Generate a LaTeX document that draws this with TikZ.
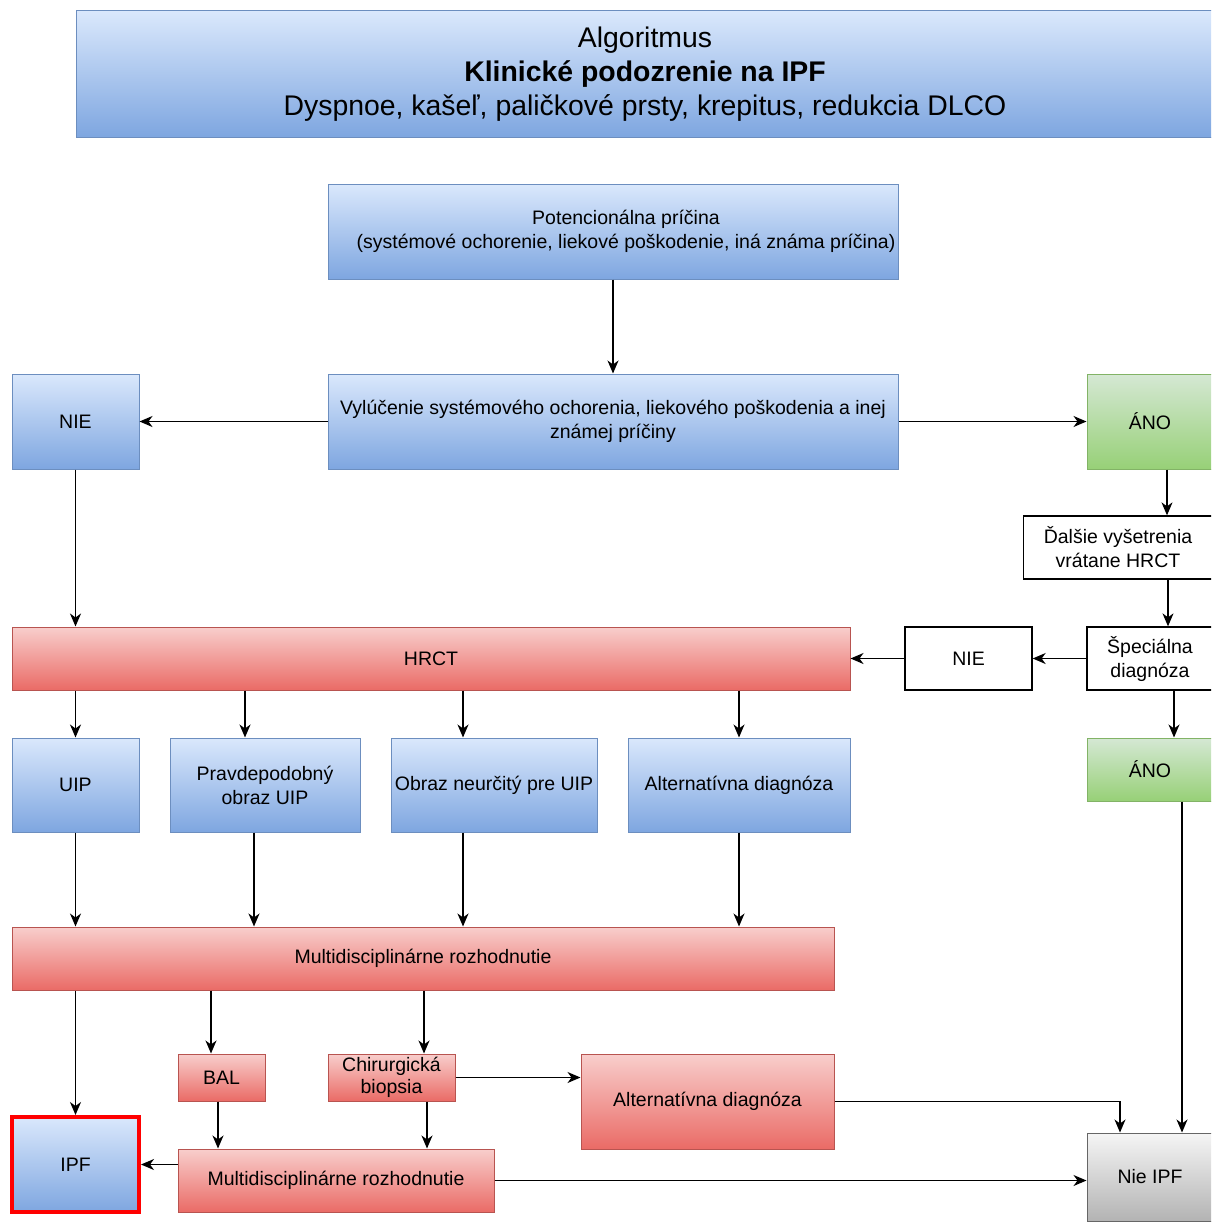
\documentclass[tikz,border=0pt]{standalone}
\usepackage{fontspec}
\setmainfont{Liberation Sans}
\usetikzlibrary{arrows.meta}
\definecolor{bluetop}{HTML}{DAE8FC}
\definecolor{bluebot}{HTML}{7EA6E0}
\definecolor{blueline}{HTML}{6C8EBF}
\definecolor{redtop}{HTML}{F8CECC}
\definecolor{redbot}{HTML}{EA6B66}
\definecolor{redline}{HTML}{B85450}
\definecolor{greentop}{HTML}{D5E8D4}
\definecolor{greenbot}{HTML}{97D077}
\definecolor{greenline}{HTML}{82B366}
\definecolor{graytop}{HTML}{F5F5F5}
\definecolor{graybot}{HTML}{B3B3B3}
\definecolor{grayline}{HTML}{666666}
\tikzset{
  box/.style={rectangle, inner sep=0pt, align=center, line width=1pt,
    font=\fontsize{19.5}{24}\selectfont, text=black},
  bluebox/.style={box, top color=bluetop, bottom color=bluebot, draw=blueline},
  redbox/.style={box, top color=redtop, bottom color=redbot, draw=redline},
  greenbox/.style={box, top color=greentop, bottom color=greenbot, draw=greenline},
  graybox/.style={box, top color=graytop, bottom color=graybot, draw=grayline},
  whitebox/.style={box, fill=white, draw=black, line width=1.3pt},
  arr/.style={-{Stealth[length=13pt,width=11pt,inset=4pt]}, line width=1.4pt, draw=black},
}
\begin{document}
\begin{tikzpicture}[x=1pt,y=-1pt]
\clip (0,0) rectangle (1211,1223);
\fill[white] (0,0) rectangle (1211,1223);
% header
\node[bluebox, minimum width=1138pt, minimum height=126pt, font=\fontsize{28.4}{34}\selectfont] (head) at (645,74)
  {Algoritmus\\\textbf{Klinické podozrenie na IPF}\\Dyspnoe, kašeľ, paličkové prsty, krepitus, redukcia DLCO};
\node[bluebox, minimum width=570pt, minimum height=95pt] (pot) at (613,231.5)
  {\hspace*{26pt}Potencionálna príčina\\\hspace*{26pt}(systémové ochorenie, liekové poškodenie, iná známa príčina)};
\node[bluebox, minimum width=570pt, minimum height=95pt] (vyl) at (613,421.5)
  {Vylúčenie systémového ochorenia, liekového poškodenia a inej\\známej príčiny};
\node[bluebox, minimum width=127pt, minimum height=95pt] (nie1) at (75.5,421.5) {NIE};
\node[greenbox, minimum width=126pt, minimum height=95pt] (ano1) at (1150,421.5) {ÁNO};
\node[whitebox, minimum width=189pt, minimum height=63pt] (dal) at (1118,547.5) {Ďalšie vyšetrenia\\vrátane HRCT};
\node[whitebox, minimum width=126pt, minimum height=63pt] (spec) at (1150,658.5) {Špeciálna\\diagnóza};
\node[whitebox, minimum width=127pt, minimum height=63pt] (nie2) at (968.5,658.5) {NIE};
\node[redbox, minimum width=838pt, minimum height=63pt] (hrct) at (431,658.5) {HRCT};
\node[greenbox, minimum width=126pt, minimum height=63pt] (ano2) at (1150,769.5) {ÁNO};
\node[bluebox, minimum width=127pt, minimum height=94pt] (uip) at (75.5,785) {UIP};
\node[bluebox, minimum width=190pt, minimum height=94pt] (prav) at (265,785) {Pravdepodobný\\obraz UIP};
\node[bluebox, minimum width=206pt, minimum height=94pt] (obr) at (494,785) {Obraz neurčitý pre UIP};
\node[bluebox, minimum width=222pt, minimum height=94pt] (alt1) at (739,785) {Alternatívna diagnóza};
\node[redbox, minimum width=822pt, minimum height=63pt] (m1) at (423,958.5) {Multidisciplinárne rozhodnutie};
\node[redbox, minimum width=87pt, minimum height=47pt] (bal) at (221.5,1077.5) {BAL};
\node[redbox, minimum width=127pt, minimum height=47pt, font=\fontsize{19.5}{22}\selectfont] (chir) at (391.5,1077.5) {Chirurgická\\biopsia};
\node[redbox, minimum width=253pt, minimum height=95pt] (alt2) at (707.5,1101.5) {Alternatívna diagnóza};
\node[bluebox, minimum width=127pt, minimum height=95pt, draw=red, line width=4pt] (ipf) at (75.5,1164.5) {IPF};
\node[redbox, minimum width=316pt, minimum height=63pt] (m2) at (336,1180.5) {Multidisciplinárne rozhodnutie};
\node[graybox, minimum width=126pt, minimum height=88pt] (nipf) at (1150,1177) {Nie IPF};
% x coordinates
\coordinate (xa) at (1167,0);
\coordinate (xb) at (1168,0);
\coordinate (xc) at (1174,0);
\coordinate (xd) at (1182,0);
\coordinate (xe) at (1120,0);
\coordinate (xf) at (245,0);
\coordinate (xg) at (254,0);
\coordinate (xh) at (463,0);
\coordinate (xi) at (211,0);
\coordinate (xj) at (424,0);
\coordinate (xk) at (427,0);
\coordinate (xl) at (218,0);
% connectors
\draw[arr] (pot.south) -- (vyl.north);
\draw[arr] (vyl.west) -- (nie1.east);
\draw[arr] (vyl.east) -- (ano1.west);
\draw[arr] (nie1.south) -- (nie1.south |- hrct.north);
\draw[arr] (ano1.south -| xa) -- (dal.north -| xa);
\draw[arr] (dal.south -| xb) -- (spec.north -| xb);
\draw[arr] (spec.west) -- (nie2.east);
\draw[arr] (nie2.west) -- (hrct.east);
\draw[arr] (spec.south -| xc) -- (ano2.north -| xc);
\draw[arr] (hrct.south -| uip) -- (uip.north);
\draw[arr] (hrct.south -| xf) -- (prav.north -| xf);
\draw[arr] (hrct.south -| xh) -- (obr.north -| xh);
\draw[arr] (hrct.south -| alt1) -- (alt1.north);
\draw[arr] (uip.south) -- (m1.north -| uip);
\draw[arr] (prav.south -| xg) -- (m1.north -| xg);
\draw[arr] (obr.south -| xh) -- (m1.north -| xh);
\draw[arr] (alt1.south) -- (m1.north -| alt1);
\draw[arr] (m1.south -| ipf) -- (ipf.north);
\draw[arr] (m1.south -| xi) -- (bal.north -| xi);
\draw[arr] (m1.south -| xj) -- (chir.north -| xj);
\draw[arr] (chir.east) -- (chir.east -| alt2.west);
\draw[arr] (bal.south -| xl) -- (m2.north -| xl);
\draw[arr] (chir.south -| xk) -- (m2.north -| xk);
\draw[arr] (m2.west |- ipf) -- (ipf.east);
\draw[arr] (m2.east) -- (m2.east -| nipf.west);
\draw[arr] (alt2.east) -| (xe |- nipf.north);
\draw[arr] (ano2.south -| xd) -- (nipf.north -| xd);
\end{tikzpicture}
\end{document}
